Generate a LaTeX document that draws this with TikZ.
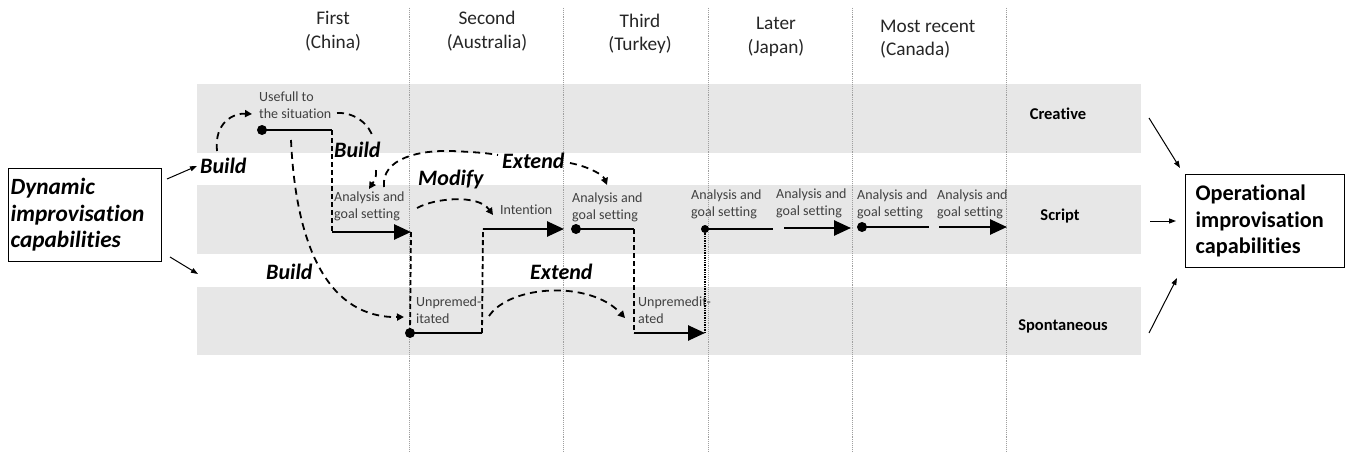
\documentclass[tikz,border=0pt]{standalone}
\usepackage{fontspec}
\setmainfont{Carlito}[Ligatures=NoCommon]
\usetikzlibrary{arrows.meta}
\definecolor{bandgray}{HTML}{E7E7E7}
\definecolor{labgray}{HTML}{404040}
\definecolor{hdrgray}{HTML}{262626}
\tikzset{
  band/.style={fill=bandgray, draw=none},
  colline/.style={gray!75, densely dotted, line width=0.9pt},
  hdr/.style={font=\fontsize{19.3}{23.5}\selectfont, text=hdrgray, align=center, inner sep=0},
  small/.style={font=\fontsize{14}{17}\selectfont, text=labgray, align=left, inner sep=0, anchor=west},
  act/.style={font=\fontsize{22}{26}\selectfont\bfseries\itshape, inner sep=0, anchor=west},
  lane/.style={font=\fontsize{16.5}{20}\selectfont\bfseries, inner sep=0},
  flow/.style={line width=2.6pt},
  flowarr/.style={line width=2.6pt, -{Triangle[length=17pt,width=15pt]}},
  vdash/.style={line width=1.8pt, dash pattern=on 5pt off 3pt},
  curve/.style={line width=1.8pt, dash pattern=on 7pt off 5pt},
  curvearr/.style={curve, -{Triangle[length=7pt,width=7pt]}},
  thinarr/.style={line width=1pt, -{Triangle[length=7pt,width=5pt]}},
  capbox/.style={draw, line width=1.3pt, anchor=north west, align=left, font=\fontsize{22.3}{26.5}\selectfont\bfseries}
}
\begin{document}
\begin{tikzpicture}[x=1pt,y=-1pt]
\useasboundingbox (0,0) rectangle (1348,452);
% bands
\fill[band] (197,84) rectangle (1141,153);
\fill[band] (197,185) rectangle (1141,254);
\fill[band] (197,287) rectangle (1141,355);
% column lines
\foreach \x in {409,563,708,852,1006} \draw[colline] (\x,8) -- (\x,452);
% headers
\node[hdr] (h1) at (333,31) {First\\(China)};
\node[hdr] (h2) at (487,31) {Second\\(Australia)};
\node[hdr] (h3) at (640,34) {Third\\(Turkey)};
\node[hdr] (h4) at (776,37) {Later\\(Japan)};
\node[hdr, anchor=west, align=left] (h5) at (880,39) {Most recent\\(Canada)};
% lane labels
\node[lane] (lc) at (1058,114) {Creative};
\node[lane] (ls) at (1060,216) {Script};
\node[lane] (lp) at (1063,326) {Spontaneous};
% boxes
\node[capbox, minimum width=153pt, minimum height=93pt, text width=149pt, inner xsep=2pt, font=\fontsize{23.3}{26.5}\selectfont\bfseries\itshape] (dyn) at (8,168) {Dynamic\\improvisation\\capabilities};
\node[capbox, minimum width=159pt, minimum height=93pt, text width=139pt, inner xsep=10pt] (op) at (1185,174) {Operational\\improvisation\\capabilities};
% box connectors
\coordinate (d1) at (167,179); \coordinate (d1e) at (197,166);
\coordinate (d2) at (170,257); \coordinate (d2e) at (198,274);
\draw[thinarr] (d1) -- (d1e);
\draw[thinarr] (d2) -- (d2e);
\coordinate (r1) at (1149,118); \coordinate (r1e) at (1180,168);
\coordinate (r2) at (1150,221); \coordinate (r2e) at (1176,221);
\coordinate (r3) at (1149,333); \coordinate (r3e) at (1177,278);
\draw[thinarr] (r1) -- (r1e);
\draw[thinarr] (r2) -- (r2e);
\draw[thinarr] (r3) -- (r3e);
% small labels
\node[small] (use) at (259,105.5) {Usefull to\\the situation};
\node[small] (ag1) at (334,206) {Analysis and\\goal setting};
\node[small] (int) at (500,210) {Intention};
\node[small] (ag2) at (572,207) {Analysis and\\goal setting};
\node[small] (ag3) at (691,204) {Analysis and\\goal setting};
\node[small] (ag4) at (776,203) {Analysis and\\goal setting};
\node[small] (ag5) at (857,204) {Analysis and\\goal setting};
\node[small] (ag6) at (937,204) {Analysis and\\goal setting};
\node[small] (un1) at (416,310) {Unpremed-\\itated};
\node[small] (un2) at (638,310) {Unpremedit-\\ated};
% action labels
\node[act] (b1) at (200,166) {Build};
\node[act] (b2) at (334,150) {Build};
\node[act] (b3) at (266,272) {Build};
\node[act] (mo) at (418,180) {Modify};
\node[act] (e1) at (502,161) {Extend};
\node[act] (e2) at (530,272) {Extend};
% flow coordinates
\coordinate (p1) at (262,130); \coordinate (p2) at (332,130);
\coordinate (p3) at (332,232); \coordinate (p4) at (411,232);
\coordinate (p5) at (410,333); \coordinate (p6) at (482,333);
\coordinate (p7) at (483,229); \coordinate (p8) at (564,229);
\coordinate (p9) at (576,229); \coordinate (p10) at (634,229);
\coordinate (p11) at (634,333); \coordinate (p12) at (705,333);
\coordinate (p13) at (705,229); \coordinate (p14) at (773,229);
\coordinate (p15) at (784,228); \coordinate (p16) at (851,228);
\coordinate (p17) at (862,227); \coordinate (p18) at (929,227);
\coordinate (p19) at (939,227); \coordinate (p20) at (1007,227);
% flow
\draw[flow] (p1) -- (p2);
\draw[vdash] (p2) -- (p3);
\draw[flowarr] (p3) -- (p4);
\draw[vdash] (p4) -- (p5);
\draw[flow] (p5) -- (p6);
\draw[vdash] (p6) -- (p7);
\draw[flowarr] (p7) -- (p8);
\draw[flow] (p9) -- (p10);
\draw[vdash] (p10) -- (p11);
\draw[flowarr] (p11) -- (p12);
\draw[line width=1.4pt, densely dotted] (p12) -- (p13);
\draw[flow] (p13) -- (p14);
\draw[flowarr] (p15) -- (p16);
\draw[flow] (p17) -- (p18);
\draw[flowarr] (p19) -- (p20);
\fill (p1) circle (5pt);
\fill (p5) circle (5pt);
\fill (p9) circle (5pt);
\fill (p13) circle (4pt);
\fill (p17) circle (5pt);
% dashed curves
\coordinate (c1s) at (217,151); \coordinate (c1e) at (252,114);
\draw[curvearr] (c1s) .. controls (214,122) and (234,113) .. (c1e);
\coordinate (c2s) at (337,113); \coordinate (c2e) at (373,138);
\draw[curve] (c2s) .. controls (355,112) and (370,125) .. (c2e);
\coordinate (c3s) at (376,170); \coordinate (c3e) at (369,189);
\draw[curvearr] (c3s) .. controls (376,178) .. (c3e);
\coordinate (c4s) at (384,187); \coordinate (c4m) at (498,155);
\draw[curve] (c4s) .. controls (381,158) and (420,150) .. (452,151) .. controls (472,152) and (488,153) .. (c4m);
\coordinate (c4b) at (570,163); \coordinate (c4e) at (607,185);
\draw[curvearr] (c4b) .. controls (590,167) and (603,175) .. (c4e);
\coordinate (c5s) at (417,208); \coordinate (c5e) at (493,215);
\draw[curvearr] (c5s) .. controls (435,198) and (478,194) .. (c5e);
\coordinate (c6s) at (489,316); \coordinate (c6e) at (625,318);
\draw[curvearr] (c6s) .. controls (510,285) and (590,280) .. (c6e);
\coordinate (c7s) at (291,140); \coordinate (c7e) at (404,317);
\draw[curvearr] (c7s) .. controls (296,250) and (330,318) .. (c7e);
\end{tikzpicture}
\end{document}
